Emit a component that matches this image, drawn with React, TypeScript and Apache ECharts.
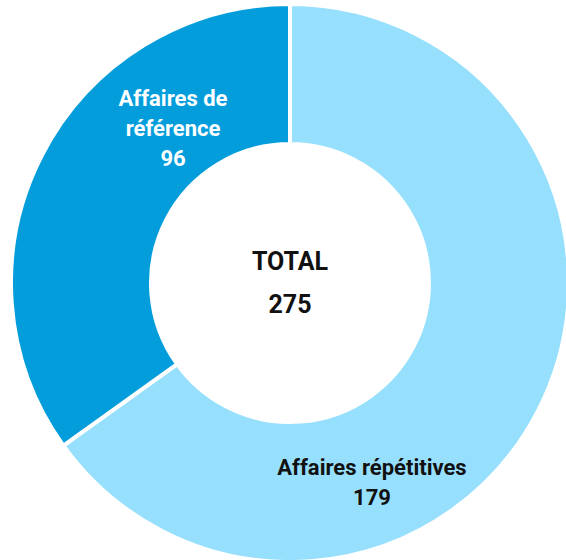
import React, { useEffect, useRef } from "react";
import * as echarts from "echarts";

const categories = ["Affaires répétitives", "Affaires de référence"];
const labelTexts = ["Affaires répétitives", "Affaires de\nréférence"];
const values = [179, 96];
const colors = ["#97E0FD", "#039DDC"];
const labelColors = ["#111111", "#FFFFFF"];
const totalLabel = "TOTAL";

export default function App() {
  const ref = useRef<HTMLDivElement>(null);
  useEffect(() => {
    document.body.style.margin = "0";
    const chart = echarts.init(ref.current!, null, { renderer: "svg" });
    const total = values.reduce((a, b) => a + b, 0);
    const labelPos = [
      { x: 372, y: 482 },
      { x: 173, y: 128 },
    ];
    chart.setOption({
      animation: false,
      backgroundColor: "#ffffff",
      graphic: [
        {
          type: "text",
          x: 290,
          y: 283,
          style: {
            text: `${totalLabel}\n${total}`,
            fontFamily: "Roboto",
            fontWeight: "bold",
            fontSize: 25,
            lineHeight: 43,
            fill: "#111111",
            align: "center",
            verticalAlign: "middle",
          },
        },
      ],
      series: [
        {
          type: "pie",
          center: [290, 283],
          radius: [139, 279],
          startAngle: 90,
          clockwise: true,
          silent: true,
          itemStyle: { borderColor: "#ffffff", borderWidth: 4 },
          labelLine: { show: false },
          labelLayout: (params: any) => labelPos[params.dataIndex],
          data: categories.map((name, i) => ({
            name,
            value: values[i],
            itemStyle: { color: colors[i] },
            label: {
              show: true,
              position: "inside",
              formatter: `${labelTexts[i]}\n${values[i]}`,
              color: labelColors[i],
              fontFamily: "Roboto",
              fontWeight: "bold",
              fontSize: 22,
              lineHeight: 30,
              align: "center",
              verticalAlign: "middle",
            },
          })),
        },
      ],
    });
    return () => chart.dispose();
  }, []);
  return <div ref={ref} style={{ width: 566, height: 560 }} />;
}
